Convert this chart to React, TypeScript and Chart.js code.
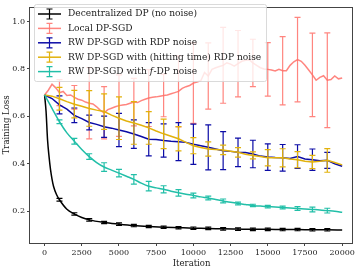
import React, { useEffect, useRef } from "react";
import { Chart, registerables } from "chart.js";
Chart.register(...registerables);

// ---------- data ----------
const STEP_ITERS = Array.from({ length: 41 }, (_, i) => i * 500);
const FINE_ITERS = Array.from({ length: 81 }, (_, i) => i * 250);
const BAR_ITERS = Array.from({ length: 19 }, (_, i) => (i + 1) * 1000);
const BLACK_ITERS = [0, 100, 200, 300, 400, 500, 600, 800, 1000, 1500, 2000, 2500, 3000, 4000, 5000, 6000, 7000, 8000, 9000, 10000, 11000, 12000, 13000, 14000, 15000, 16000, 17000, 18000, 19000, 20000];

const X_TICKS = [0, 2500, 5000, 7500, 10000, 12500, 15000, 17500, 20000];
const Y_TICKS = [0.2, 0.4, 0.6, 0.8, 1.0];

const LABELS = [
  "Decentralized DP (no noise)",
  "Local DP-SGD",
  "RW DP-SGD with RDP noise",
  "RW DP-SGD with (hitting time) RDP noise",
  "RW DP-SGD with f-DP noise",
];

const blackLoss = [0.69, 0.62, 0.5, 0.43, 0.375, 0.335, 0.305, 0.27, 0.248, 0.208, 0.188, 0.173, 0.163, 0.152, 0.145, 0.139, 0.135, 0.132, 0.13, 0.128, 0.127, 0.125, 0.124, 0.123, 0.123, 0.122, 0.122, 0.121, 0.121, 0.12];
const blackErr = [0.006, 0.005, 0.005, 0.005, 0.005, 0.005, 0.005, 0.005, 0.005, 0.005, 0.005, 0.005, 0.005, 0.005, 0.005, 0.005, 0.005, 0.005, 0.005];

const pinkLoss = [
  0.69, 0.71, 0.735, 0.72, 0.7, 0.705, 0.688, 0.69, 0.68, 0.672, 0.668, 0.66, 0.655, 0.652, 0.64, 0.625,
  0.615, 0.628, 0.634, 0.64, 0.645, 0.648, 0.65, 0.655, 0.66, 0.658, 0.666, 0.672, 0.677, 0.68, 0.682, 0.685,
  0.688, 0.69, 0.695, 0.7, 0.705, 0.718, 0.725, 0.73, 0.74, 0.745, 0.75, 0.785, 0.77, 0.798, 0.805, 0.81,
  0.815, 0.826, 0.82, 0.812, 0.822, 0.832, 0.836, 0.839, 0.825, 0.815, 0.805, 0.8, 0.798, 0.795, 0.791, 0.798,
  0.792, 0.792, 0.815, 0.83, 0.839, 0.832, 0.815, 0.795, 0.775, 0.752, 0.764, 0.771, 0.752, 0.755, 0.77, 0.758, 0.762,
];
const pinkErr = [0.055, 0.05, 0.15, 0.11, 0.13, 0.1, 0.12, 0.09, 0.15, 0.17, 0.14, 0.16, 0.14, 0.1, 0.113, 0.144, 0.178, 0.176, 0.2];

const blueLoss = [
  0.69, 0.675, 0.648, 0.63, 0.604, 0.59, 0.574, 0.566, 0.556, 0.55, 0.542, 0.535, 0.525, 0.515, 0.503, 0.502,
  0.498, 0.495, 0.493, 0.49, 0.482, 0.476, 0.469, 0.462, 0.455, 0.452, 0.448, 0.447, 0.441, 0.432, 0.428, 0.426,
  0.425, 0.422, 0.43, 0.42, 0.417, 0.412, 0.414, 0.4, 0.389,
];
const blueErr = [0.038, 0.031, 0.031, 0.045, 0.07, 0.06, 0.07, 0.07, 0.08, 0.085, 0.095, 0.08, 0.06, 0.058, 0.056, 0.056, 0.05, 0.045, 0.034];

const yellowLoss = [
  0.69, 0.685, 0.674, 0.662, 0.651, 0.642, 0.633, 0.626, 0.62, 0.605, 0.592, 0.58, 0.572, 0.562, 0.551, 0.538,
  0.526, 0.516, 0.505, 0.49, 0.476, 0.468, 0.462, 0.46, 0.458, 0.453, 0.448, 0.44, 0.435, 0.43, 0.425, 0.425,
  0.425, 0.42, 0.417, 0.41, 0.407, 0.41, 0.414, 0.405, 0.395,
];
const yellowErr = [0.048, 0.058, 0.075, 0.075, 0.09, 0.09, 0.069, 0.062, 0.051, 0.034, 0.03, 0.02, 0.02, 0.015, 0.034, 0.038, 0.034, 0.028, 0.05];

const tealLoss = [
  0.69, 0.633, 0.577, 0.53, 0.495, 0.46, 0.43, 0.405, 0.386, 0.373, 0.36, 0.347, 0.334, 0.318, 0.305, 0.298,
  0.292, 0.284, 0.277, 0.271, 0.266, 0.26, 0.255, 0.249, 0.243, 0.237, 0.232, 0.228, 0.224, 0.221, 0.219, 0.217,
  0.215, 0.213, 0.211, 0.209, 0.207, 0.205, 0.202, 0.199, 0.195,
];
const tealErr = [0.008, 0.012, 0.012, 0.018, 0.016, 0.02, 0.02, 0.015, 0.014, 0.01, 0.008, 0.008, 0.006, 0.005, 0.005, 0.006, 0.008, 0.01, 0.01];

const COLORS = ["#000000", "rgba(255,112,104,0.85)", "#0b0ba6", "#e2b20c", "#22bfa8"];

const SERIES = [
  { iters: BLACK_ITERS, loss: blackLoss, err: blackErr, smooth: true },
  { iters: FINE_ITERS, loss: pinkLoss, err: pinkErr, smooth: false },
  { iters: STEP_ITERS, loss: blueLoss, err: blueErr, smooth: false },
  { iters: STEP_ITERS, loss: yellowLoss, err: yellowErr, smooth: false },
  { iters: STEP_ITERS, loss: tealLoss, err: tealErr, smooth: true },
];

const FONT = "'DejaVu Serif', 'Liberation Serif', serif";
const LEG_SIZE = 9.1;

export default function App() {
  const ref = useRef<HTMLCanvasElement | null>(null);

  useEffect(() => {
    document.body.style.margin = "0";
    const canvas = ref.current!;

    const errorBars = {
      id: "errorBars",
      afterDatasetDraw(chart: any, args: any) {
        const i = args.index;
        const s = SERIES[i];
        const ctx = chart.ctx;
        const xs = chart.scales.x;
        const ys = chart.scales.y;
        ctx.save();
        ctx.strokeStyle = COLORS[i];
        ctx.lineWidth = 1.2;
        BAR_ITERS.forEach((it, k) => {
          const idx = s.iters.indexOf(it);
          if (idx < 0) return;
          const v = s.loss[idx];
          const e = s.err[k];
          const px = xs.getPixelForValue(it);
          const y1 = ys.getPixelForValue(v - e);
          const y2 = ys.getPixelForValue(v + e);
          ctx.beginPath();
          ctx.moveTo(px, y1);
          ctx.lineTo(px, y2);
          ctx.moveTo(px - 3, y1);
          ctx.lineTo(px + 3, y1);
          ctx.moveTo(px - 3, y2);
          ctx.lineTo(px + 3, y2);
          ctx.stroke();
        });
        ctx.restore();
      },
    };

    const frameAndLegend = {
      id: "frameAndLegend",
      afterDraw(chart: any) {
        const ctx = chart.ctx;
        const a = chart.chartArea;
        ctx.save();
        // frame
        ctx.strokeStyle = "#444";
        ctx.lineWidth = 1;
        ctx.strokeRect(Math.round(a.left) - 0.5, Math.round(a.top) + 0.5, Math.round(a.right - a.left), Math.round(a.bottom - a.top));
        // axis titles
        ctx.fillStyle = "#222";
        ctx.font = `8.5px ${FONT}`;
        ctx.textAlign = "center";
        ctx.textBaseline = "middle";
        ctx.fillText("Iteration", (a.left + a.right) / 2, 264);
        ctx.save();
        ctx.translate(7, (a.top + a.bottom) / 2);
        ctx.rotate(-Math.PI / 2);
        ctx.fillText("Training Loss", 0, 0);
        ctx.restore();
        // legend
        const bx = 34.5, by = 4.5, bw = 232, bh = 77;
        ctx.beginPath();
        (ctx as any).roundRect(bx, by, bw, bh, 2);
        ctx.fillStyle = "rgba(255,255,255,0.8)";
        ctx.fill();
        ctx.strokeStyle = "#d0d0d0";
        ctx.lineWidth = 0.8;
        ctx.stroke();
        ctx.font = `${LEG_SIZE}px ${FONT}`;
        ctx.textAlign = "left";
        ctx.textBaseline = "middle";
        LABELS.forEach((lab, i) => {
          const y = 14 + i * 14.4;
          ctx.strokeStyle = COLORS[i];
          ctx.lineWidth = 1.5;
          ctx.beginPath();
          ctx.moveTo(38, y);
          ctx.lineTo(61, y);
          ctx.stroke();
          ctx.lineWidth = 1.2;
          ctx.beginPath();
          ctx.moveTo(49.5, y - 5);
          ctx.lineTo(49.5, y + 5);
          ctx.moveTo(46.5, y - 5);
          ctx.lineTo(52.5, y - 5);
          ctx.moveTo(46.5, y + 5);
          ctx.lineTo(52.5, y + 5);
          ctx.stroke();
          ctx.fillStyle = "#222";
          if (i === 4) {
            const p1 = "RW DP-SGD with ";
            ctx.font = `${LEG_SIZE}px ${FONT}`;
            ctx.fillText(p1, 68, y);
            let x = 68 + ctx.measureText(p1).width;
            ctx.font = `italic ${LEG_SIZE}px ${FONT}`;
            ctx.fillText("f", x, y);
            x += ctx.measureText("f").width + 0.5;
            ctx.font = `${LEG_SIZE}px ${FONT}`;
            ctx.fillText("-DP noise", x, y);
          } else {
            ctx.fillText(lab, 68, y);
          }
        });
        ctx.restore();
      },
    };

    const order = [4, 3, 2, 1, 0];
    const chart = new Chart(canvas, {
      type: "line",
      data: {
        datasets: SERIES.map((s, i) => ({
          label: LABELS[i],
          data: s.iters.map((it, k) => ({ x: it, y: s.loss[k] })),
          borderColor: COLORS[i],
          borderWidth: 1.5,
          pointRadius: 0,
          fill: false,
          cubicInterpolationMode: s.smooth ? "monotone" : "default",
          order: order[i],
        })),
      },
      options: {
        animation: false,
        responsive: false,
        events: [],
        layout: { padding: { top: 1, right: 3, left: 0, bottom: 0 } },
        plugins: { legend: { display: false }, tooltip: { enabled: false } },
        scales: {
          x: {
            type: "linear",
            min: -980,
            max: 20740,
            afterFit: (sc: any) => { sc.height = 27; },
            afterBuildTicks: (sc: any) => { sc.ticks = X_TICKS.map((v) => ({ value: v })); },
            ticks: {
              font: { family: FONT, size: 8 },
              color: "#222",
              padding: 2,
              maxRotation: 0,
              callback: (v: any) => String(v),
            },
            grid: { drawOnChartArea: false, drawTicks: true, tickLength: 3, color: "#444" },
            border: { display: false },
          },
          y: {
            type: "linear",
            min: 0.0654,
            max: 1.062,
            afterFit: (sc: any) => { sc.width = 30; },
            afterBuildTicks: (sc: any) => { sc.ticks = Y_TICKS.map((v) => ({ value: v })); },
            ticks: {
              font: { family: FONT, size: 8 },
              color: "#222",
              padding: 2,
              callback: (v: any) => Number(v).toFixed(1),
            },
            grid: { drawOnChartArea: false, drawTicks: true, tickLength: 3, color: "#444" },
            border: { display: false },
          },
        },
      },
      plugins: [errorBars, frameAndLegend],
    } as any);
    return () => chart.destroy();
  }, []);

  return (
    <div style={{ width: 357, height: 270 }}>
      <canvas ref={ref} width={357} height={270} style={{ display: "block" }} />
    </div>
  );
}
